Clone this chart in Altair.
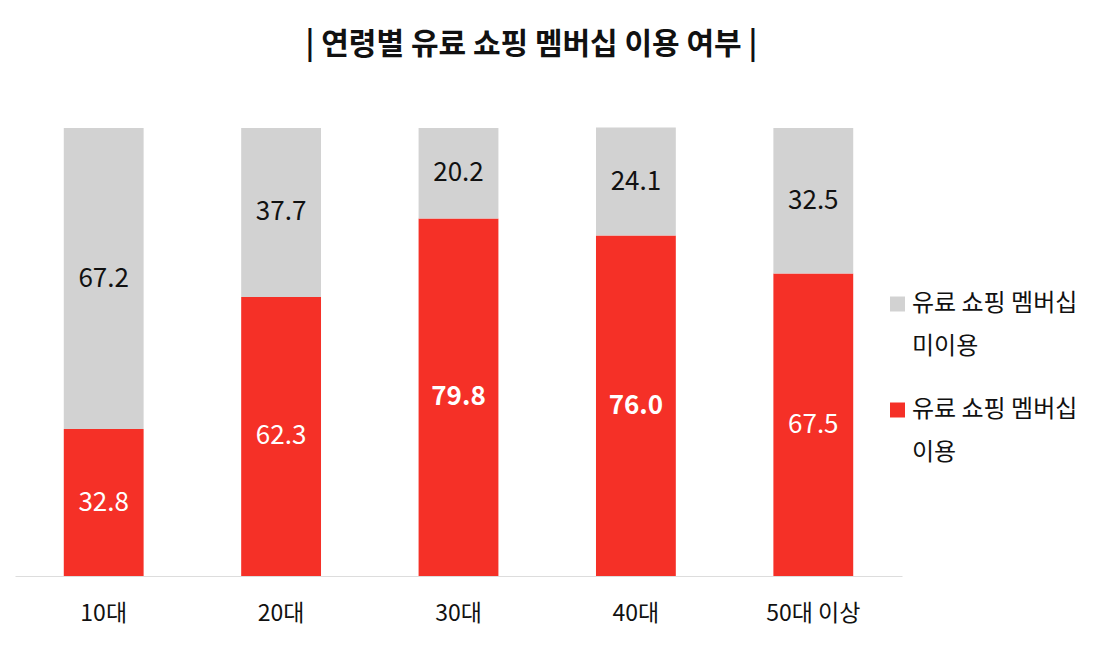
import altair as alt
import pandas as pd

ages = ["10대", "20대", "30대", "40대", "50대 이상"]
use = [32.8, 62.3, 79.8, 76.0, 67.5]
nonuse = [67.2, 37.7, 20.2, 24.1, 32.5]
series = ["유료 쇼핑 멤버십 미이용", "유료 쇼핑 멤버십 이용"]
colors = ["#D2D2D2", "#F53027"]
title_text = "| 연령별 유료 쇼핑 멤버십 이용 여부 |"

rows = []
for a, u, n in zip(ages, use, nonuse):
    rows.append({"age": a, "status": series[1], "value": u, "order": 0})
    rows.append({"age": a, "status": series[0], "value": n, "order": 1})
df = pd.DataFrame(rows)

leg_df = pd.DataFrame({
    "status": series,
    "label": ["\n".join(s.rsplit(" ", 1)) for s in series],
})

FONT = "Noto Sans CJK KR"
color_scale = alt.Scale(domain=series, range=colors)

x = alt.X(
    "age:N", sort=ages, title=None,
    scale=alt.Scale(paddingInner=0.55, paddingOuter=0.275),
    axis=alt.Axis(labelAngle=0, ticks=False, domainColor="#DDDDDD", domainWidth=1,
                  labelFontSize=23, labelColor="#111111", labelPadding=26,
                  labelFont=FONT, grid=False),
)

base = alt.Chart(df)

bars = base.mark_bar().encode(
    x=x,
    y=alt.Y("value:Q", stack="zero", scale=alt.Scale(domain=[0, 100], nice=False), axis=None),
    color=alt.Color("status:N", scale=color_scale, legend=None),
    order=alt.Order("order:Q"),
)

text_base = base.transform_stack(
    stack="value", groupby=["age"], sort=[alt.SortField("order")], as_=["v0", "v1"]
).transform_calculate(mid="(datum.v0 + datum.v1) / 2")

text_enc = dict(
    x=alt.X("age:N", sort=ages),
    y=alt.Y("mid:Q", scale=alt.Scale(domain=[0, 100], nice=False)),
    text=alt.Text("value:Q", format=".1f"),
    color=alt.condition(alt.datum.order == 0, alt.value("#FFFFFF"), alt.value("#111111")),
)

text_normal = text_base.transform_filter("datum.value < 75").mark_text(
    font=FONT, fontSize=26, baseline="middle", align="center"
).encode(**text_enc)

text_bold = text_base.transform_filter("datum.value >= 75").mark_text(
    font=FONT, fontSize=26, fontWeight="bold", baseline="middle", align="center"
).encode(**text_enc)

main = alt.layer(bars, text_normal, text_bold)

# legend drawn as marks
leg_y = alt.Y("status:N", scale=alt.Scale(type="point", domain=series, range=[176, 282], padding=0), axis=None)
leg_sym = alt.Chart(leg_df).mark_square(size=225, opacity=1).encode(
    x=alt.value(882.5), y=leg_y,
    color=alt.Color("status:N", scale=color_scale, legend=None),
)
leg_txt = alt.Chart(leg_df).mark_text(
    font=FONT, fontSize=24, color="#111111", align="left", baseline="middle",
    lineBreak="\n", lineHeight=43,
).encode(x=alt.value(897), y=leg_y, text="label:N")

chart = alt.layer(main, leg_sym, leg_txt).resolve_scale(y="independent").properties(
    width=887, height=448,
    title=alt.Title(title_text, font=FONT, fontSize=30, fontWeight="bold", color="#111111",
                    anchor="middle", dx=73, offset=68),
    autosize=alt.AutoSizeParams(type="none"),
    padding={"left": 7, "top": 120, "right": 200, "bottom": 70},
).configure(background="#FFFFFF").configure_view(stroke=None)

chart.save("out.html", embed_options={"renderer": "svg", "actions": False})
